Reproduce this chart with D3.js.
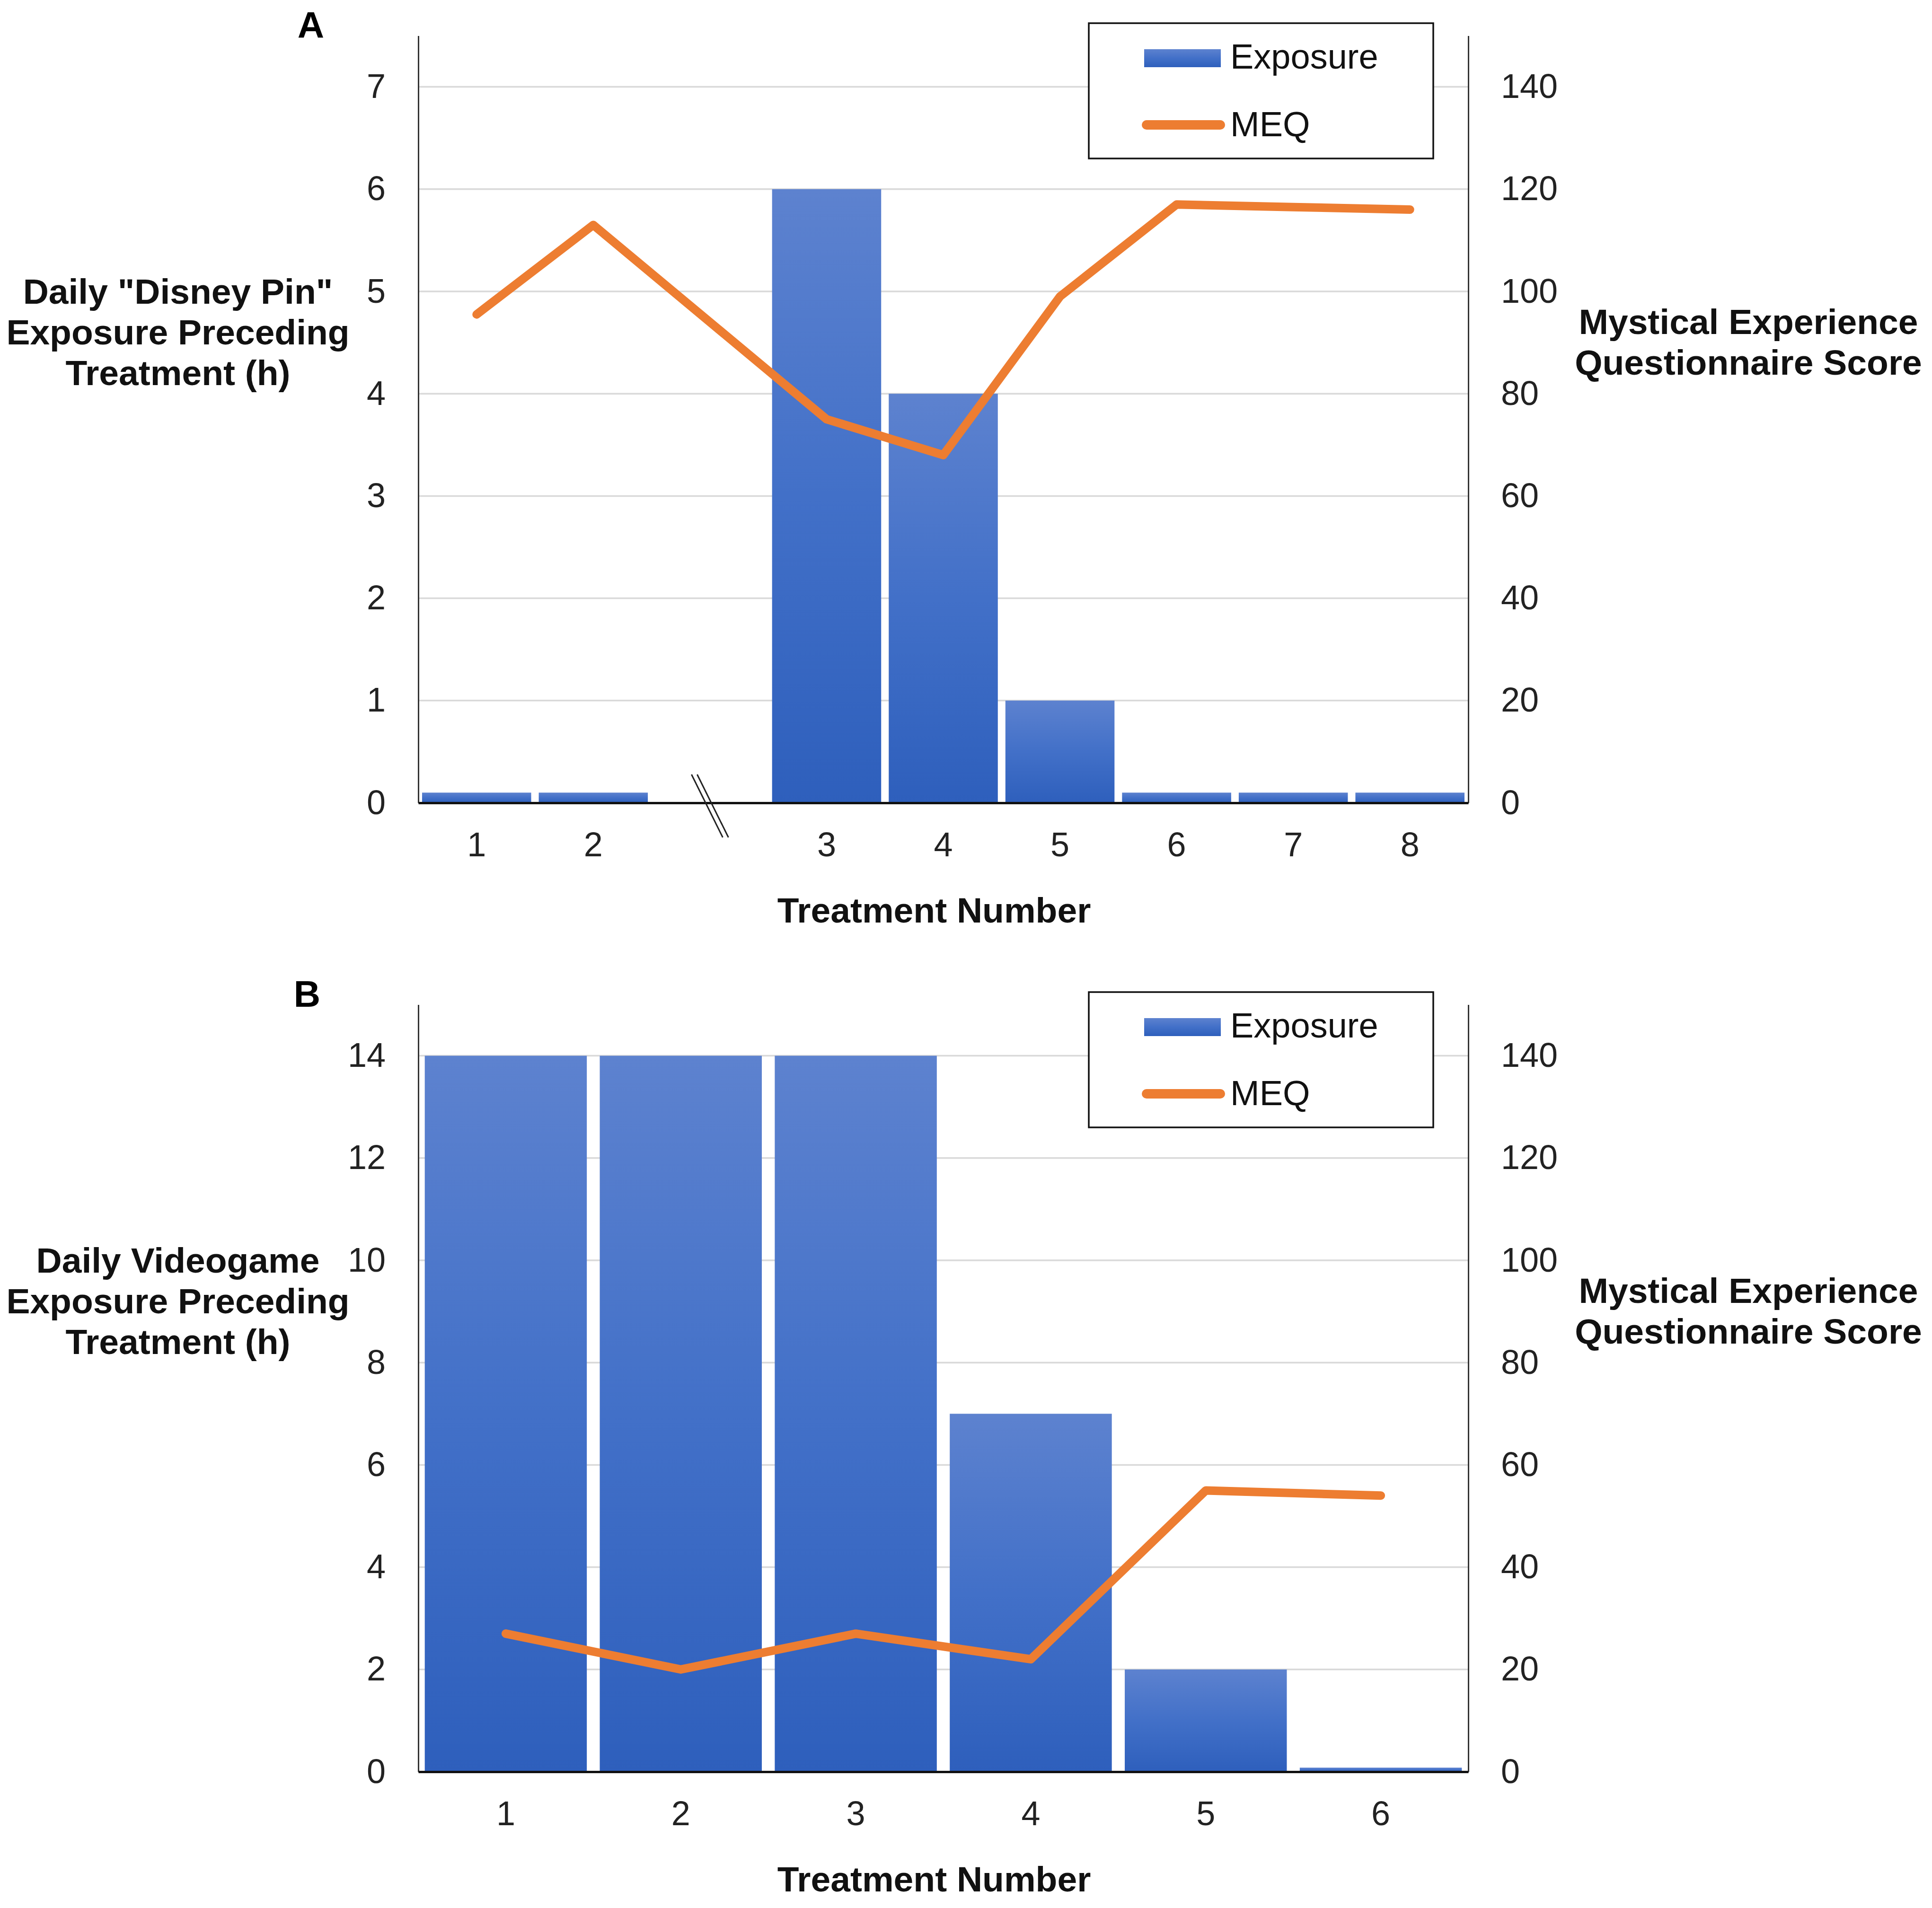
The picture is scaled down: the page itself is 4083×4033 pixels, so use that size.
<!DOCTYPE html>
<html>
<head>
<meta charset="utf-8">
<script src="https://cdn.jsdelivr.net/npm/d3@7"></script>
<style>
  html, body { margin: 0; padding: 0; background: #fff; }
  svg { display: block; }
</style>
</head>
<body>
<svg id="chart" width="4083" height="4033"></svg>
<script>
// ---------- DATA ----------
const catsA = ["1", "2", "break", "3", "4", "5", "6", "7", "8"];
const exposureA = [0.1, 0.1, null, 6, 4, 1, 0.1, 0.1, 0.1];
const meqA = [95.5, 113, null, 75, 68, 99, 117, 116.5, 116];
const leftTicksA = [0, 1, 2, 3, 4, 5, 6, 7];
const leftMaxA = 7.5;
const titleLeftA = ["Daily \"Disney Pin\"", "Exposure Preceding", "Treatment (h)"];

const catsB = ["1", "2", "3", "4", "5", "6"];
const exposureB = [14, 14, 14, 7, 2, 0.08];
const meqB = [27, 20, 27, 22, 55, 54];
const leftTicksB = [0, 2, 4, 6, 8, 10, 12, 14];
const leftMaxB = 15;
const titleLeftB = ["Daily Videogame", "Exposure Preceding", "Treatment (h)"];

const rightTicks = [0, 20, 40, 60, 80, 100, 120, 140];
const rightMax = 150;
const titleRight = ["Mystical Experience", "Questionnaire Score"];
const xTitle = "Treatment Number";
const legendLabels = ["Exposure", "MEQ"];
const panelLabels = ["A", "B"];

// ---------- STYLE ----------
const FONT = "'Liberation Sans', Arial, Helvetica, sans-serif";
const ORANGE = "#ED7D31";
const GRID = "#d9d9d9";

const svg = d3.select("#chart");
svg.append("rect").attr("width", 4083).attr("height", 4033).attr("fill", "#fff");

const defs = svg.append("defs");
const grad = defs.append("linearGradient").attr("id", "barGrad")
  .attr("x1", 0).attr("y1", 0).attr("x2", 0).attr("y2", 1);
grad.append("stop").attr("offset", "0%").attr("stop-color", "#5D82CF");
grad.append("stop").attr("offset", "50%").attr("stop-color", "#4270C8");
grad.append("stop").attr("offset", "100%").attr("stop-color", "#2E5FBC");

function drawPanel(cfg) {
  const oy = cfg.oy;
  const xL = 884, xR = 3103;
  const y0 = 1697 + oy;
  const pxPerMax = 1621.5;
  const g = svg.append("g");

  const x = d3.scaleBand().domain(cfg.cats).range([xL, xR])
    .paddingInner(cfg.pad).paddingOuter(cfg.pad / 2);
  const yL = d3.scaleLinear().domain([0, cfg.leftMax]).range([y0, y0 - pxPerMax]);
  const yR = d3.scaleLinear().domain([0, rightMax]).range([y0, y0 - pxPerMax]);

  // gridlines
  g.append("g").selectAll("line").data(cfg.leftTicks.filter(d => d > 0)).join("line")
    .attr("x1", xL).attr("x2", xR)
    .attr("y1", d => yL(d)).attr("y2", d => yL(d))
    .attr("stroke", GRID).attr("stroke-width", 3.5);

  // bars
  const barData = cfg.cats.map((c, i) => ({ c, v: cfg.exposure[i] })).filter(d => d.v != null);
  g.append("g").selectAll("rect").data(barData).join("rect")
    .attr("x", d => x(d.c)).attr("width", x.bandwidth())
    .attr("y", d => yL(d.v)).attr("height", d => y0 - yL(d.v))
    .attr("fill", "url(#barGrad)");

  // left axis
  const axL = g.append("g").attr("transform", `translate(${xL},0)`)
    .call(d3.axisLeft(yL).tickValues(cfg.leftTicks).tickSize(0).tickPadding(69).tickFormat(d3.format("d")));
  axL.select(".domain").attr("stroke", "#333").attr("stroke-width", 3);
  axL.selectAll("text").attr("font-family", FONT).attr("font-size", 72).attr("fill", "#222");

  // right axis
  const axR = g.append("g").attr("transform", `translate(${xR},0)`)
    .call(d3.axisRight(yR).tickValues(rightTicks).tickSize(0).tickPadding(69).tickFormat(d3.format("d")));
  axR.select(".domain").attr("stroke", "#333").attr("stroke-width", 3);
  axR.selectAll("text").attr("font-family", FONT).attr("font-size", 72).attr("fill", "#222");

  // bottom axis
  const axB = g.append("g").attr("transform", `translate(0,${y0})`)
    .call(d3.axisBottom(x).tickSize(0).tickPadding(62).tickSizeOuter(0)
      .tickFormat(d => d === "break" ? "" : d));
  axB.select(".domain").attr("stroke", "#111").attr("stroke-width", 5);
  axB.selectAll("text").attr("font-family", FONT).attr("font-size", 72).attr("fill", "#222");

  // axis break marks
  if (cfg.cats.includes("break")) {
    const c = x("break") + x.bandwidth() / 2;
    const bg = g.append("g");
    [-6, 6].forEach(off => {
      bg.append("line")
        .attr("x1", c - 33 + off).attr("y1", y0 - 60)
        .attr("x2", c + 33 + off).attr("y2", y0 + 73)
        .attr("stroke", "#222").attr("stroke-width", 3);
    });
  }

  // MEQ line
  const lineData = cfg.cats.map((c, i) => ({ c, v: cfg.meq[i] })).filter(d => d.v != null);
  const line = d3.line().x(d => x(d.c) + x.bandwidth() / 2).y(d => yR(d.v));
  g.append("path").datum(lineData).attr("d", line)
    .attr("fill", "none").attr("stroke", ORANGE).attr("stroke-width", 18)
    .attr("stroke-linejoin", "round").attr("stroke-linecap", "round");

  // legend
  const lg = g.append("g").attr("transform", `translate(2301,${49 + oy})`);
  lg.append("rect").attr("width", 728).attr("height", 286)
    .attr("fill", "#fff").attr("stroke", "#111").attr("stroke-width", 3.5);
  lg.append("rect").attr("x", 117).attr("y", 55).attr("width", 162).attr("height", 38)
    .attr("fill", "url(#barGrad)");
  lg.append("text").attr("x", 299).attr("y", 96).text(legendLabels[0])
    .attr("font-family", FONT).attr("font-size", 74).attr("fill", "#111");
  lg.append("line").attr("x1", 122).attr("x2", 278).attr("y1", 215).attr("y2", 215)
    .attr("stroke", ORANGE).attr("stroke-width", 20).attr("stroke-linecap", "round");
  lg.append("text").attr("x", 299).attr("y", 239).text(legendLabels[1])
    .attr("font-family", FONT).attr("font-size", 74).attr("fill", "#111");

  // left title
  g.append("text").attr("text-anchor", "middle")
    .attr("font-family", FONT).attr("font-weight", "bold").attr("font-size", 75).attr("fill", "#111")
    .selectAll("tspan").data(cfg.titleLeft).join("tspan")
    .attr("x", 376).attr("y", (d, i) => 642 + oy + i * 86).text(d => d);

  // right title
  g.append("text").attr("text-anchor", "middle")
    .attr("font-family", FONT).attr("font-weight", "bold").attr("font-size", 75).attr("fill", "#111")
    .selectAll("tspan").data(titleRight).join("tspan")
    .attr("x", 3695).attr("y", (d, i) => 706 + oy + i * 86).text(d => d);

  // x title
  g.append("text").attr("text-anchor", "middle").attr("x", 1974).attr("y", 1950 + oy)
    .attr("font-family", FONT).attr("font-weight", "bold").attr("font-size", 75).attr("fill", "#111")
    .text(xTitle);

  // panel label
  g.append("text").attr("text-anchor", "middle").attr("x", cfg.labelX).attr("y", 80 + oy)
    .attr("font-family", FONT).attr("font-weight", "bold").attr("font-size", 78).attr("fill", "#000")
    .text(cfg.label);
}

drawPanel({ oy: 0, cats: catsA, exposure: exposureA, meq: meqA, leftTicks: leftTicksA,
  leftMax: leftMaxA, titleLeft: titleLeftA, pad: 0.065, label: panelLabels[0], labelX: 657 });
drawPanel({ oy: 2048, cats: catsB, exposure: exposureB, meq: meqB, leftTicks: leftTicksB,
  leftMax: leftMaxB, titleLeft: titleLeftB, pad: 0.074, label: panelLabels[1], labelX: 649 });
</script>
</body>
</html>
